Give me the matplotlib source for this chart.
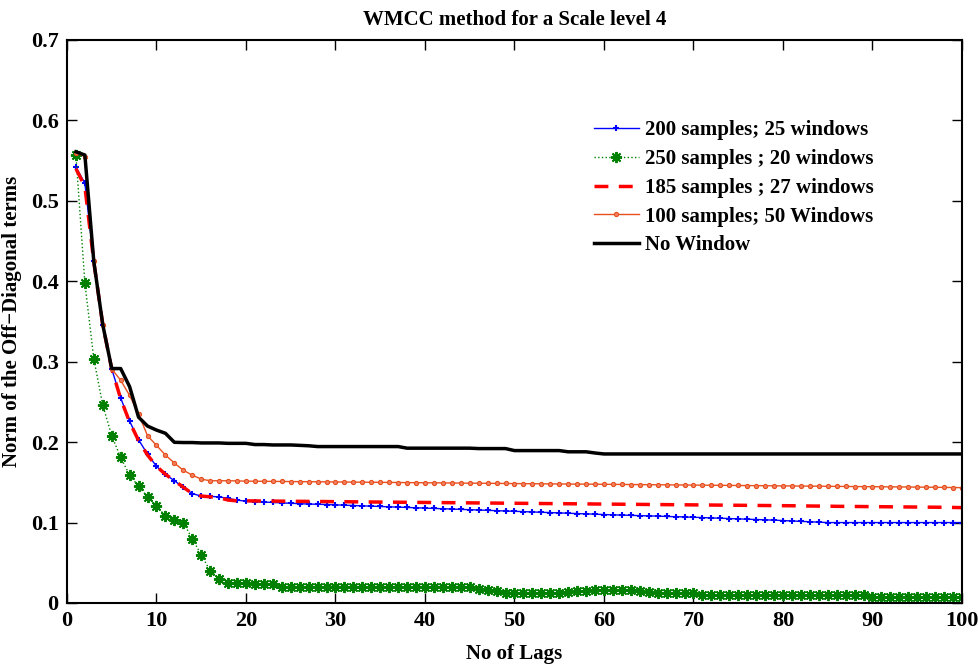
import numpy as np
import matplotlib
matplotlib.use('Agg')
import matplotlib.pyplot as plt

# lags 1..100
lags = np.arange(1, 101)

# 200 samples; 25 windows
s200 = [0.542, 0.522, 0.425, 0.346, 0.291, 0.255, 0.226, 0.203, 0.185, 0.170,
        0.160, 0.152, 0.144, 0.136, 0.133, 0.1325, 0.132, 0.130, 0.128, 0.1265,
        0.126, 0.1255, 0.125, 0.1245, 0.124, 0.1235, 0.123, 0.1228, 0.1224, 0.122,
        0.1216, 0.1212, 0.1208, 0.1204, 0.120, 0.1196, 0.1192, 0.1188, 0.1184, 0.118,
        0.1176, 0.1172, 0.1168, 0.1164, 0.116, 0.1156, 0.1152, 0.1148, 0.1144, 0.114,
        0.1136, 0.1132, 0.1128, 0.1124, 0.112, 0.1116, 0.1112, 0.1108, 0.1104, 0.110,
        0.1096, 0.1093, 0.109, 0.1086, 0.1083, 0.108, 0.1076, 0.1073, 0.107, 0.1066,
        0.1062, 0.1058, 0.1054, 0.105, 0.1046, 0.1042, 0.1038, 0.1034, 0.103, 0.1025,
        0.102, 0.1015, 0.101, 0.1005, 0.100] + [0.100] * 15

# 250 samples ; 20 windows
s250 = [0.557, 0.398, 0.3035, 0.246, 0.208, 0.181, 0.159, 0.145, 0.132, 0.121,
        0.108, 0.103, 0.100, 0.080, 0.060, 0.040, 0.030, 0.0245, 0.0245, 0.0245,
        0.024, 0.024, 0.0235] + [0.0205] * 22 + \
       [0.017, 0.016, 0.0145, 0.013, 0.012, 0.012, 0.012, 0.012, 0.012, 0.013,
        0.0136, 0.015, 0.015, 0.016, 0.0162, 0.0165, 0.0165, 0.0162, 0.015, 0.0135,
        0.012, 0.012, 0.012, 0.012, 0.012] + [0.010] * 19 + [0.0075] * 11

# 185 samples ; 27 windows
s185 = [0.540, 0.518, 0.424, 0.346, 0.291, 0.254, 0.225, 0.202, 0.184, 0.170,
        0.160, 0.152, 0.144, 0.136, 0.133, 0.132, 0.131, 0.128, 0.127, 0.127,
        0.1269, 0.1268, 0.1267, 0.1266, 0.1265, 0.1264, 0.1263, 0.1262, 0.1261, 0.126,
        0.1259, 0.1258, 0.1257, 0.1256, 0.1255, 0.1254, 0.1253, 0.1252, 0.1251, 0.125,
        0.1249, 0.1248, 0.1247, 0.1246, 0.1245, 0.1244, 0.1243, 0.1242, 0.1241, 0.124,
        0.1239, 0.1238, 0.1237, 0.1236, 0.1235, 0.1234, 0.1233, 0.1232, 0.1231, 0.123,
        0.1229, 0.1228, 0.1227, 0.1226, 0.1225, 0.1224, 0.1223, 0.1222, 0.1221, 0.122,
        0.1219, 0.1218, 0.1217, 0.1216, 0.1215, 0.1214, 0.1213, 0.1212, 0.1211, 0.121,
        0.1209, 0.1208, 0.1206, 0.1205, 0.1204, 0.1202, 0.1201, 0.12, 0.1199, 0.1198,
        0.1197, 0.1196, 0.1195, 0.1194, 0.1193, 0.1192, 0.1191, 0.119, 0.1188, 0.1186]

# 100 samples; 50 Windows
s100 = [0.560, 0.555, 0.425, 0.346, 0.291, 0.277, 0.258, 0.235, 0.208, 0.196,
        0.184, 0.174, 0.165, 0.159, 0.154, 0.152, 0.152, 0.152, 0.1518, 0.1515,
        0.1514, 0.1513, 0.1512, 0.1511, 0.151, 0.1509, 0.1508, 0.1507, 0.1506, 0.1505,
        0.1504, 0.1503, 0.1502, 0.1501, 0.150, 0.1499, 0.1498, 0.1497, 0.1496, 0.1495,
        0.1494, 0.1493, 0.1492, 0.1491, 0.149, 0.1489, 0.1488, 0.1487, 0.1486, 0.1485,
        0.1484, 0.1483, 0.1482, 0.1481, 0.148, 0.1479, 0.1478, 0.1478, 0.1477, 0.1476,
        0.1475, 0.1474, 0.1473, 0.1472, 0.1471, 0.147, 0.1469, 0.1468, 0.1467, 0.1466,
        0.1465, 0.1464, 0.1463, 0.1462, 0.1461, 0.146, 0.1459, 0.1458, 0.1457, 0.1456,
        0.1455, 0.1454, 0.1453, 0.1452, 0.1451, 0.145, 0.1449, 0.1448, 0.1447, 0.1446,
        0.1445, 0.1444, 0.1443, 0.1442, 0.1441, 0.144, 0.1439, 0.1437, 0.1436, 0.1434]

# No Window
nowin = [0.561, 0.557, 0.4245, 0.346, 0.2915, 0.2915, 0.269, 0.231, 0.220, 0.215,
         0.211, 0.1998, 0.1995, 0.1995, 0.199, 0.199, 0.199, 0.1985, 0.1985, 0.1985,
         0.197, 0.197, 0.1965, 0.1965, 0.1965, 0.196, 0.1955] + [0.1945] * 10 + \
        [0.1925] * 8 + [0.192] * 4 + [0.1895] * 6 + [0.188] * 3 + [0.1865] + [0.1853] * 41

labels = ['200 samples; 25 windows', '250 samples ; 20 windows',
          '185 samples ; 27 windows', '100 samples; 50 Windows', 'No Window']


def main():
    plt.rcParams['font.family'] = ['Liberation Serif', 'DejaVu Serif']
    plt.rcParams['font.weight'] = 'bold'
    plt.rcParams['axes.labelweight'] = 'bold'
    plt.rcParams['axes.titleweight'] = 'bold'

    fig = plt.figure(figsize=(9.79, 6.70), dpi=100)
    ax = fig.add_axes([0.0684, 0.1, 0.9142, 0.8403])

    ax.plot(lags, s200, color='blue', lw=1.0, marker='+', ms=4, mew=1.5,
            label=labels[0])
    # MATLAB-style asterisk
    ax.plot(lags, s250, color=(0, 0.5, 0), lw=1.0, ls=':', marker=(8, 2, 0), ms=8,
            mew=1.4, label=labels[1])
    ax.plot(lags, s185, color='red', lw=2.5, ls=(0, (4, 3)), label=labels[2])
    ax.plot(lags, s100, color='#e8501e', lw=1.0, marker='o', ms=3, mfc='#f08060',
            mew=0.8, label=labels[3])
    ax.plot(lags, nowin, color='black', lw=2.5, label=labels[4])

    ax.set_xlim(0, 100)
    ax.set_ylim(0, 0.7)
    ax.set_xticks(np.arange(0, 101, 10))
    ax.set_yticks(np.arange(0, 0.71, 0.1))
    ax.set_yticklabels(['0', '0.1', '0.2', '0.3', '0.4', '0.5', '0.6', '0.7'])
    ax.tick_params(direction='in', length=7, width=1, top=True, right=True,
                   labelsize=16, pad=6)
    for sp in ax.spines.values():
        sp.set_linewidth(1.5)

    ax.set_title('WMCC method for a Scale level 4', fontsize=15, pad=11)
    ax.set_xlabel('No of Lags', fontsize=15, labelpad=9)
    ax.set_ylabel('Norm of the Off\u2212Diagonal terms', fontsize=15, labelpad=6)

    ax.legend(loc='upper left', bbox_to_anchor=(0.579, 0.872), frameon=False,
              fontsize=15, handlelength=2.2, handletextpad=0.25, labelspacing=0.42,
              borderaxespad=0)

    fig.savefig('out.png', dpi=100)


if (__name__ == "__main__"):
    main()
